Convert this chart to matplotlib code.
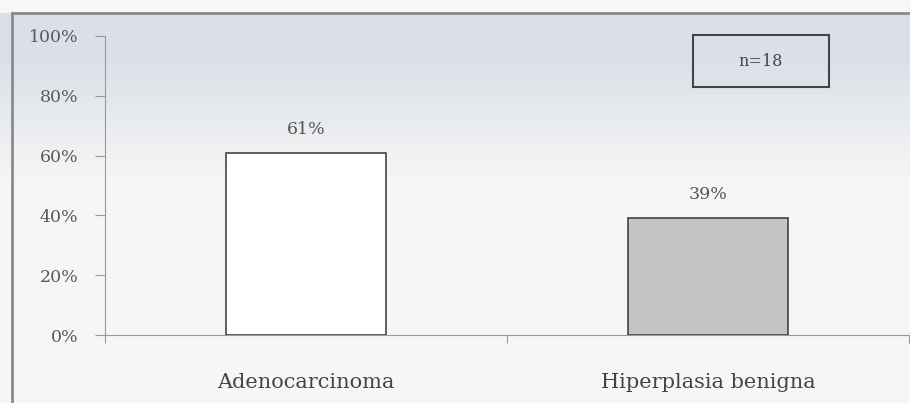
import numpy as np
import matplotlib.pyplot as plt
from matplotlib.lines import Line2D
from matplotlib.patches import Rectangle

categories = ['Adenocarcinoma', 'Hiperplasia benigna']
values = [61, 39]
bar_labels = ['61%', '39%']
yticks = [0, 20, 40, 60, 80, 100]
ytick_labels = ['0%', '20%', '40%', '60%', '80%', '100%']
note = 'n=18'

plt.rcParams['font.family'] = ['DejaVu Serif']

fig = plt.figure(figsize=(9.10, 4.03), dpi=100)
fig.patch.set_facecolor('white')

# scanned-looking background: bluish grey at the top fading to white
bg = fig.add_axes([0, 0, 1, 1], zorder=-10)
rows = np.linspace(0, 1, 403)
top = np.array([0.86, 0.875, 0.91])
low = np.array([0.965, 0.97, 0.962])
w = np.clip((rows - 0.14) / 0.32, 0, 1)[:, None]
grad = top * (1 - w) + low * w
grad[rows < 0.03] = [0.97, 0.97, 0.97]
bg.imshow(grad[:, None, :], aspect='auto', extent=[0, 1, 0, 1], origin='upper')
bg.set_xlim(0, 1)
bg.set_ylim(0, 1)
bg.axis('off')

# outer frame of the scanned figure
fig.add_artist(Line2D([12/910, 12/910], [0, 1 - 13/403], color='#8a8a8a', lw=2))
fig.add_artist(Line2D([12/910, 1], [1 - 13/403, 1 - 13/403], color='#8a8a8a', lw=2))

ax = fig.add_axes([105/910, 1 - 335/403, 804/910, 299/403])
ax.patch.set_alpha(0)

x = np.arange(len(categories))
colors = ['white', '#c4c4c4']
ax.bar(x, values, width=0.4, color=colors, edgecolor='#444444', linewidth=1.2, zorder=3)
for xi, v, lab in zip(x, values, bar_labels):
    ax.text(xi, v + 5, lab, ha='center', va='bottom', fontsize=12.5, color='#555555')

ax.set_xlim(-0.5, 1.5)
ax.set_ylim(0, 100)
ax.set_yticks(yticks)
ax.set_yticklabels(ytick_labels, fontsize=12.5, color='#5a5a5a')
ax.set_xticks([-0.5, 0.5, 1.5])
ax.set_xticklabels([])
ax.set_xticks(x, minor=True)
ax.set_xticklabels(categories, minor=True, fontsize=15, color='#444444')
ax.tick_params(axis='x', which='minor', length=0, pad=27)
ax.tick_params(axis='x', which='major', length=6, color='#999999')
ax.tick_params(axis='y', length=7, color='#999999', pad=12)
for s in ['top', 'right']:
    ax.spines[s].set_visible(False)
for s in ['left', 'bottom']:
    ax.spines[s].set_color('#999999')

# n box
fig.add_artist(Rectangle((693/910, 1 - 87/403), 136/910, 52/403, fill=False,
                         edgecolor='#444444', lw=1.5))
fig.text(761/910, 1 - 61/403, note, ha='center', va='center', fontsize=11.5, color='#444444')

fig.savefig('out.png', dpi=100)
